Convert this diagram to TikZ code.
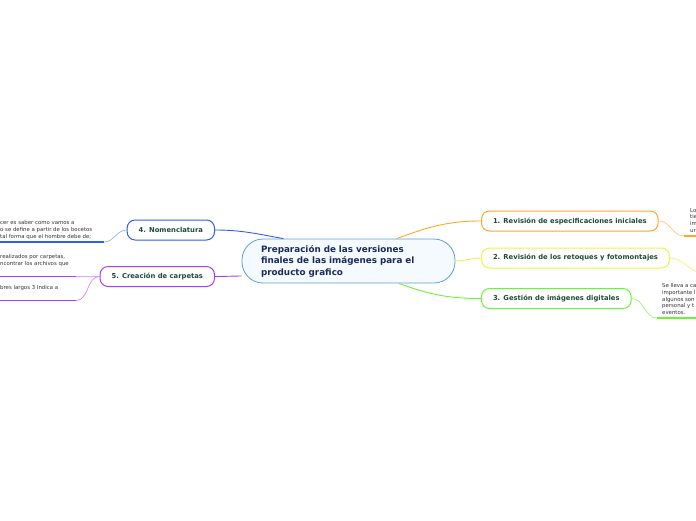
\documentclass[tikz,border=0pt]{standalone}
\usepackage{fontspec}
\setmainfont{DejaVu Sans}
\usetikzlibrary{positioning}
\definecolor{rootline}{HTML}{5B9FD8}
\definecolor{rootfill}{HTML}{F5FAFE}
\definecolor{roottext}{HTML}{1A2A5C}
\definecolor{topictext}{HTML}{1F4A38}
\definecolor{orangeln}{HTML}{FFA726}
\definecolor{yellowln}{HTML}{E2F84A}
\definecolor{greenln}{HTML}{6CF23C}
\definecolor{blueln}{HTML}{2F5EF2}
\definecolor{purpleln}{HTML}{A63EF2}
\begin{document}
\begin{tikzpicture}[x=1pt,y=1pt,
  topic/.style={draw,line width=1pt,rounded corners=8pt,fill=white,text=topictext,
    font=\bfseries\fontsize{6.8}{8}\selectfont,minimum height=20pt,inner xsep=11.5pt},
  leaf/.style={font=\fontsize{5.4}{6.7}\selectfont,align=left,inner sep=0pt,text=black!80},
  branch/.style={line width=0.9pt},
  twig/.style={line width=0.7pt},
  underln/.style={line width=1.6pt}]
\useasboundingbox (0,0) rectangle (696,-520);
\clip (0,0) rectangle (696,-520);
% centre
\node[draw=rootline,line width=0.8pt,fill=rootfill,rounded corners=21pt,minimum width=213pt,minimum height=44pt,
  inner xsep=19pt,text width=175pt,align=left,text=roottext,font=\bfseries\fontsize{8.8}{11.5}\selectfont] (root) at (348.5,-261)
  {Preparación de las versiones\\finales de las imágenes para el\\producto grafico};
% topics
\node[topic,draw=orangeln,anchor=west] (t1) at (481,-221) {1. Revisión de especificaciones iniciales};
\node[topic,draw=yellowln,anchor=west] (t2) at (481,-258) {2. Revisión de los retoques y fotomontajes};
\node[topic,draw=greenln,anchor=west] (t3) at (481,-298.5) {3. Gestión de imágenes digitales};
\node[topic,draw=blueln,anchor=east] (t4) at (215,-230) {4. Nomenclatura};
\node[topic,draw=purpleln,anchor=east] (t5) at (215,-276.5) {5. Creación de carpetas};
\draw[branch,orangeln] (root.25) to[out=20,in=180] (t1.west);
\draw[branch,yellowln] (root.east) to[out=0,in=180] (t2.west);
\draw[branch,greenln] (root.-24) to[out=-20,in=180] (t3.west);
\draw[branch,blueln] (root.161) to[out=170,in=0] (t4.east);
\draw[branch,purpleln] (root.188) to[out=180,in=0] (t5.east);
% leaves
\coordinate (c1) at (684,-236);
\coordinate (e1) at (700,-236);
\coordinate (c2) at (700,-273);
\coordinate (c3) at (657,-318);
\coordinate (e3) at (700,-318);
\coordinate (c4) at (104,-242);
\coordinate (e4) at (-5,-242);
\coordinate (c5a) at (76,-276.5);
\coordinate (e5a) at (-5,-276.5);
\coordinate (c5b) at (76,-300.5);
\coordinate (e5b) at (-5,-300.5);
\node[leaf,anchor=north west] (l1) at (690,-208) {Lo\\tie\\im\\ur};
\node[leaf,anchor=north west] (l3) at (662,-283.5) {Se lleva a ca\\importante l\\algunos son\\personal y t\\eventos.};
\node[leaf,anchor=south west] (l4) at (0,-239.5) {cer es saber como vamos a\\o se define a partir de los bocetos\\tal forma que el hombre debe de;};
\node[leaf,anchor=south west] (l5a) at (0,-266.5) {realizados por carpetas,\\ncontrar los archivos que};
\node[leaf,anchor=south west] (l5b) at (0,-291) {bres largos 3 Indica a};
\draw[twig,orangeln!60] (t1.east) to[out=0,in=180] (c1);
\draw[underln,orangeln] (c1) -- (e1);
\draw[twig,yellowln!80] (t2.east) to[out=0,in=165] (c2);
\draw[twig,greenln!70] (t3.east) to[out=0,in=180] (c3);
\draw[underln,greenln] (c3) -- (e3);
\draw[twig,blueln!50] (t4.west) to[out=180,in=0] (c4);
\draw[underln,blueln] (c4) -- (e4);
\draw[twig,purpleln!45] (t5.west) to[out=180,in=0] (c5a);
\draw[underln,purpleln] (c5a) -- (e5a);
\draw[twig,purpleln!60] (t5.west) to[out=180,in=0] (c5b);
\draw[underln,purpleln] (c5b) -- (e5b);
\end{tikzpicture}
\end{document}
